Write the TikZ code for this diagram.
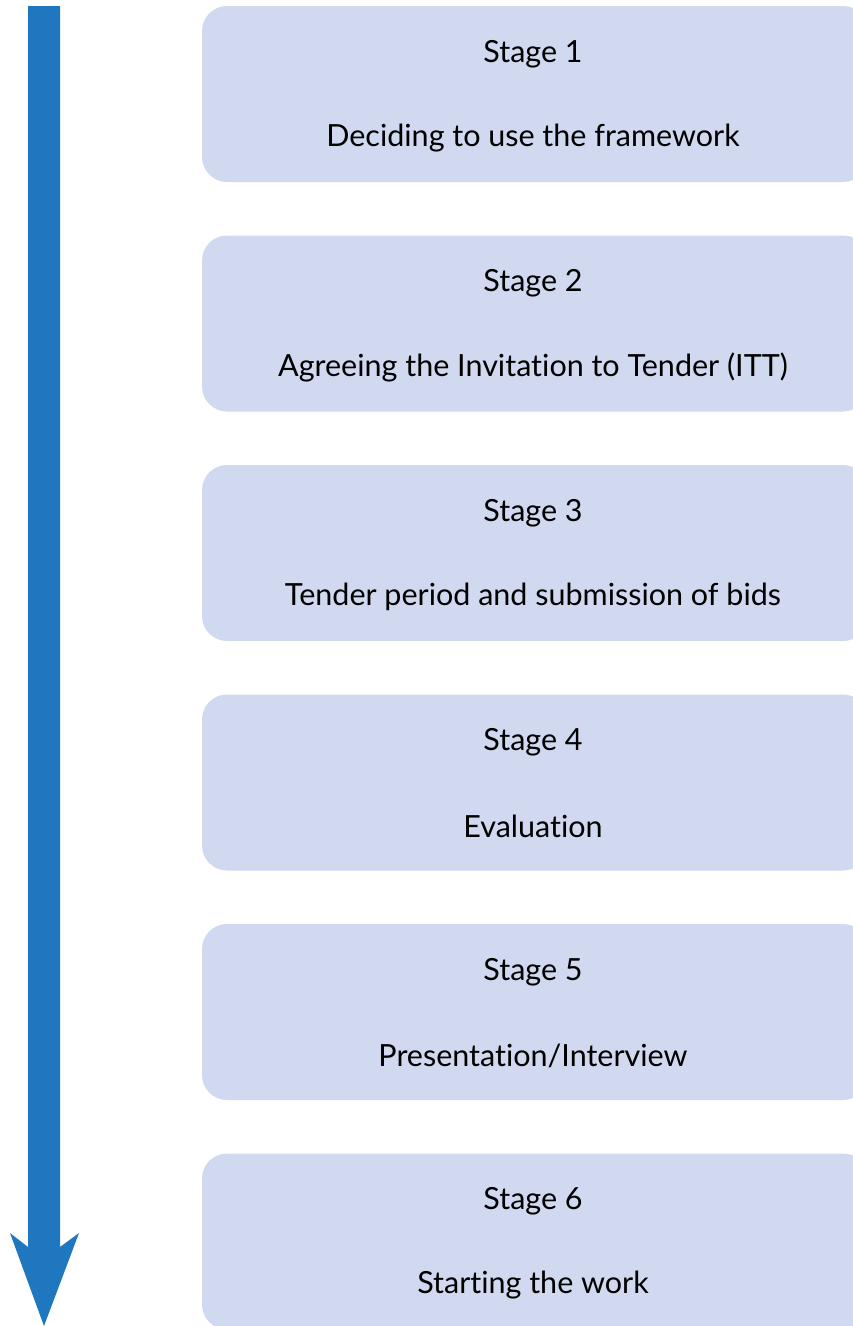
\documentclass[tikz,border=0pt]{standalone}
\usepackage{fontspec}
\setmainfont{Lato}[Ligatures={NoCommon}]
\definecolor{arrowblue}{HTML}{1F77BF}
\definecolor{stagefill}{HTML}{D0D9EF}
\tikzset{
    stagebox/.style={fill=stagefill, rounded corners=25pt, minimum width=666pt, minimum height=176pt, inner sep=0pt},
    stagetext/.style={font=\fontsize{30.5}{34}\selectfont, inner sep=0pt}
}
\begin{document}
\begin{tikzpicture}[x=1pt,y=-1pt]
    \useasboundingbox (0,0) rectangle (853,1326);
    \clip (0,0) rectangle (853,1326);
    % timeline arrow
    \fill[arrowblue] (28,6) -- (60,6) -- (60,1247) -- (79,1233) -- (44,1326) -- (10,1233) -- (28,1247) -- cycle;

    \foreach \i/\txt in {1/Deciding to use the framework,
                         2/Agreeing the Invitation to Tender (ITT),
                         3/Tender period and submission of bids,
                         4/Evaluation,
                         5/{Presentation/Interview},
                         6/Starting the work}
    {
        \node[stagebox] (stage\i) at (535,94+\i*229.5-229.5) {};
        \node[stagetext] (title\i) at (533,54+\i*229.5-229.5) {Stage \i};
        \node[stagetext] (desc\i) at (533,138+\i*229.5-229.5) {\txt};
    }
\end{tikzpicture}
\end{document}
